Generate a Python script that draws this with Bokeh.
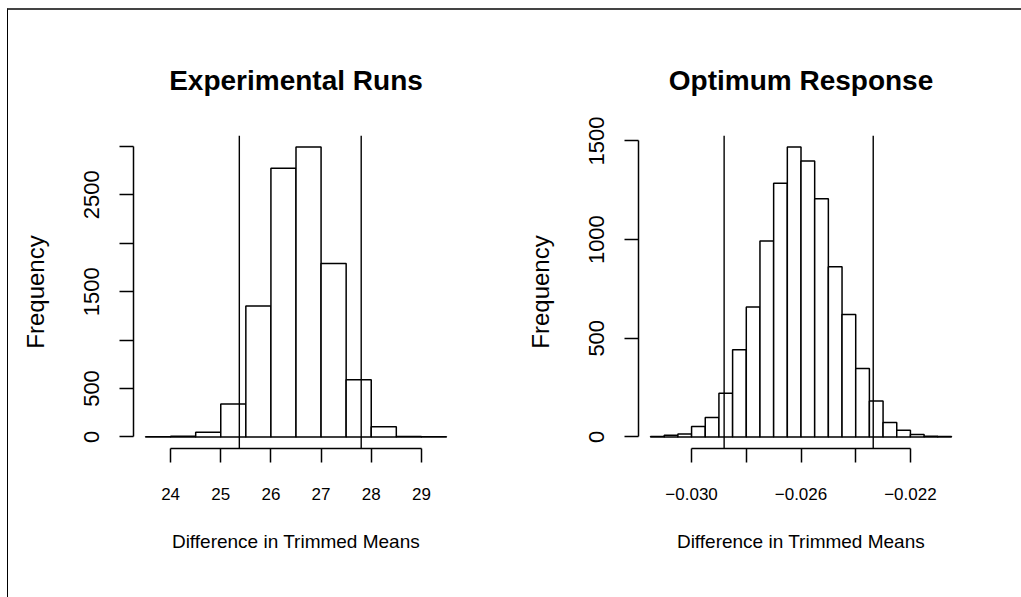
from bokeh.plotting import figure
from bokeh.models import Range1d, Span, FixedTicker
from bokeh.layouts import row
from bokeh.embed import file_html
from bokeh.resources import INLINE

FONT = "Liberation Sans"

# ---- Experimental Runs ----
exp_edges = [23.5, 24.0, 24.5, 25.0, 25.5, 26.0, 26.5, 27.0, 27.5, 28.0, 28.5, 29.0, 29.5]
exp_counts = [1, 8, 48, 340, 1351, 2775, 2993, 1791, 589, 104, 4, 1]
exp_cuts = [25.37, 27.80]
exp_xticks = [24, 25, 26, 27, 28, 29]
exp_xlabels = {24: "24", 25: "25", 26: "26", 27: "27", 28: "28", 29: "29"}
exp_yticks = [0, 500, 1000, 1500, 2000, 2500, 3000]
exp_ylabels = {0: "0", 500: "500", 1000: "", 1500: "1500", 2000: "", 2500: "2500", 3000: ""}

# ---- Optimum Response ----
opt_edges = [-0.0315, -0.0310, -0.0305, -0.0300, -0.0295, -0.0290, -0.0285, -0.0280,
             -0.0275, -0.0270, -0.0265, -0.0260, -0.0255, -0.0250, -0.0245, -0.0240,
             -0.0235, -0.0230, -0.0225, -0.0220, -0.0215, -0.0210, -0.0205]
opt_counts = [2, 8, 15, 53, 99, 221, 442, 658, 993, 1286, 1469, 1398, 1207, 862, 621,
              347, 182, 73, 34, 12, 3, 2]
opt_cuts = [-0.02881, -0.02336]
opt_xticks = [-0.030, -0.028, -0.026, -0.024, -0.022]
opt_xlabels = {-0.030: "\u22120.030", -0.028: "", -0.026: "\u22120.026", -0.024: "", -0.022: "\u22120.022"}
opt_yticks = [0, 500, 1000, 1500]
opt_ylabels = {0: "0", 500: "500", 1000: "1000", 1500: "1500"}

XLAB = "Difference in Trimmed Means"
YLAB = "Frequency"


def panel(title, edges, counts, cuts, xticks, xlabels, yticks, ylabels, width, bl, br):
    lo, hi = edges[0], edges[-1]
    px = 0.04 * (hi - lo)
    ymax = max(counts)
    py = 0.04 * ymax
    p = figure(width=width, height=587, output_backend="svg", toolbar_location=None,
               x_range=Range1d(lo - px, hi + px), y_range=Range1d(-py, ymax + py),
               min_border_left=bl, min_border_right=br, min_border_top=125,
               min_border_bottom=149)
    p.title.text = title
    p.title.text_font = FONT
    p.title.text_font_size = "28px"
    p.title.text_font_style = "bold"
    p.title.text_color = "black"
    p.title.align = "center"
    p.title.standoff = 80
    p.outline_line_color = None
    p.grid.visible = False
    p.background_fill_color = "white"
    p.border_fill_color = "white"

    p.quad(left=edges[:-1], right=edges[1:], top=counts, bottom=0,
           fill_color="white", line_color="black", line_width=1.5)
    for c in cuts:
        p.add_layout(Span(location=c, dimension="height", line_color="black", line_width=1.4))

    for ax, ticks, labels, lab in ((p.xaxis[0], xticks, xlabels, XLAB),
                                   (p.yaxis[0], yticks, ylabels, YLAB)):
        ax.ticker = FixedTicker(ticks=ticks, minor_ticks=[])
        ax.bounds = (ticks[0], ticks[-1])
        ax.major_label_overrides = labels
        ax.major_tick_out = 14
        ax.major_tick_in = 0
        ax.minor_tick_out = 0
        ax.minor_tick_in = 0
        ax.axis_line_width = 1.5
        ax.major_tick_line_width = 1.5
        ax.axis_line_color = "black"
        ax.major_tick_line_color = "black"
        ax.major_label_text_font = FONT
        ax.major_label_text_color = "black"
        ax.axis_label = lab
        ax.axis_label_text_font = FONT
        ax.axis_label_text_font_style = "normal"
        ax.axis_label_text_color = "black"
    p.xaxis.major_label_text_font_size = "17px"
    p.xaxis.axis_label_text_font_size = "19px"
    p.xaxis.major_label_standoff = 25
    p.xaxis.axis_label_standoff = 28
    p.yaxis.major_label_text_font_size = "22px"
    p.yaxis.axis_label_text_font_size = "24px"
    p.yaxis.major_label_orientation = "vertical"
    p.yaxis.major_label_standoff = 20
    p.yaxis.axis_label_standoff = 33
    return p


p1 = panel("Experimental Runs", exp_edges, exp_counts, exp_cuts, exp_xticks, exp_xlabels,
           exp_yticks, exp_ylabels, 505, 125, 55)
p2 = panel("Optimum Response", opt_edges, opt_counts, opt_cuts, opt_xticks, opt_xlabels,
           opt_yticks, opt_ylabels, 508, 125, 58)

layout = row(p1, p2, styles={"margin-left": "7px", "margin-top": "8px",
                             "border-left": "1px solid black", "border-top": "2px solid #444"})
open("out.html", "w").write(file_html(layout, INLINE))
